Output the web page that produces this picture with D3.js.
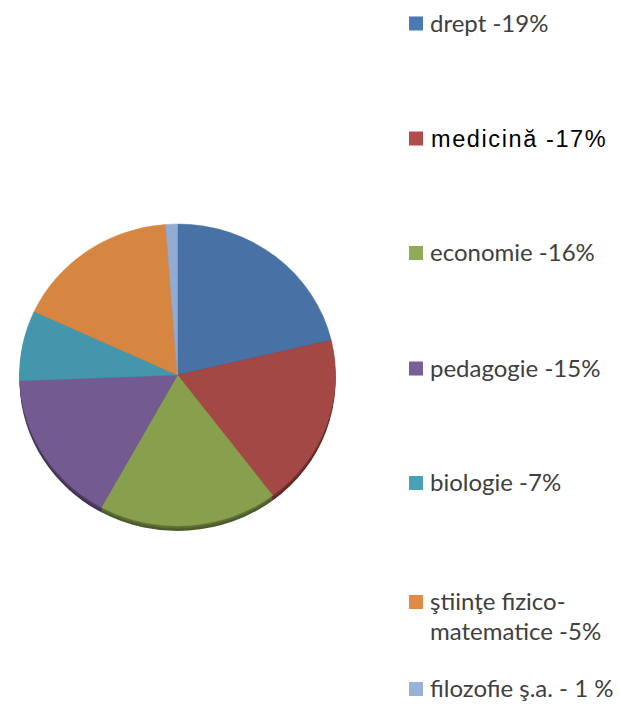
<!DOCTYPE html>
<html>
<head>
<meta charset="utf-8">
<script src="https://cdn.jsdelivr.net/npm/d3@7"></script>
<style>
  html, body { margin: 0; padding: 0; background: #ffffff; }
  svg { display: block; }
</style>
</head>
<body>
<script>
// ---- data ----
const categories = ["drept", "medicină", "economie", "pedagogie", "biologie", "ştiinţe fizico-matematice", "filozofie ş.a."];
// slice shares as drawn in the picture (angle of each slice, in % of the full pie)
const sliceValues = [21.3, 18.4, 18.3, 16.4, 7.5, 16.9, 1.2];
// legend labels as printed
const legendLabels = [
  ["drept -19%"],
  ["medicină -17%"],
  ["economie -16%"],
  ["pedagogie -15%"],
  ["biologie -7%"],
  ["ştiinţe fizico-", "matematice -5%"],
  ["filozofie ş.a. - 1 %"]
];
const faceColors   = ["#4872a5", "#a44845", "#88a04e", "#735a90", "#4496ac", "#d68641", "#93aad3"];
const legendColors = ["#4a7ab5", "#b24c4a", "#8fab55", "#785f98", "#48a0b9", "#e08a45", "#98b1d9"];

// ---- layout ----
const W = 619, H = 728;
const cx = 177.5, cy = 375, rx = 158, ry = 151, depth = 5;

const svg = d3.select("body").append("svg").attr("width", W).attr("height", H);

const pie = d3.pie().sort(null).value(d => d)(sliceValues);
const arc = d3.arc().innerRadius(0).outerRadius(rx);

// 3D side (darker, shifted down)
const side = svg.append("g").attr("transform", `translate(${cx},${cy + depth}) scale(1,${ry / rx})`);
side.selectAll("path").data(pie).join("path")
  .attr("d", arc)
  .attr("fill", (d, i) => d3.color(faceColors[i]).darker(1.6));
const side2 = svg.append("g").attr("transform", `translate(${cx},${cy + depth / 2}) scale(1,${ry / rx})`);
side2.selectAll("path").data(pie).join("path")
  .attr("d", arc)
  .attr("fill", (d, i) => d3.color(faceColors[i]).darker(1.1));

// top face
const face = svg.append("g").attr("transform", `translate(${cx},${cy}) scale(1,${ry / rx})`);
face.selectAll("path").data(pie).join("path")
  .attr("d", arc)
  .attr("fill", (d, i) => faceColors[i])
  .attr("stroke", (d, i) => faceColors[i])
  .attr("stroke-width", 0.5);

// ---- legend ----
const baselines = [31.5, 146.5, 261, 376.5, 491, 610, 697];
const legend = svg.append("g");
legendLabels.forEach((lines, i) => {
  const g = legend.append("g");
  g.append("rect")
    .attr("x", 409).attr("y", baselines[i] - 15)
    .attr("width", 14).attr("height", 14)
    .attr("fill", legendColors[i]);
  const special = i === 1;
  const t = g.append("text")
    .attr("x", special ? 431 : 430)
    .attr("y", baselines[i])
    .attr("font-family", special ? "Liberation Sans, Arial, sans-serif" : "Lato, 'Open Sans', sans-serif")
    .attr("font-size", special ? 23.5 : 24)
    .attr("letter-spacing", special ? 1.6 : 0)
    .attr("fill", special ? "#000" : "#404040");
  lines.forEach((ln, k) => {
    t.append("tspan").attr("x", special ? 431 : 430).attr("dy", k === 0 ? 0 : 29.5).text(ln);
  });
});
</script>
</body>
</html>
